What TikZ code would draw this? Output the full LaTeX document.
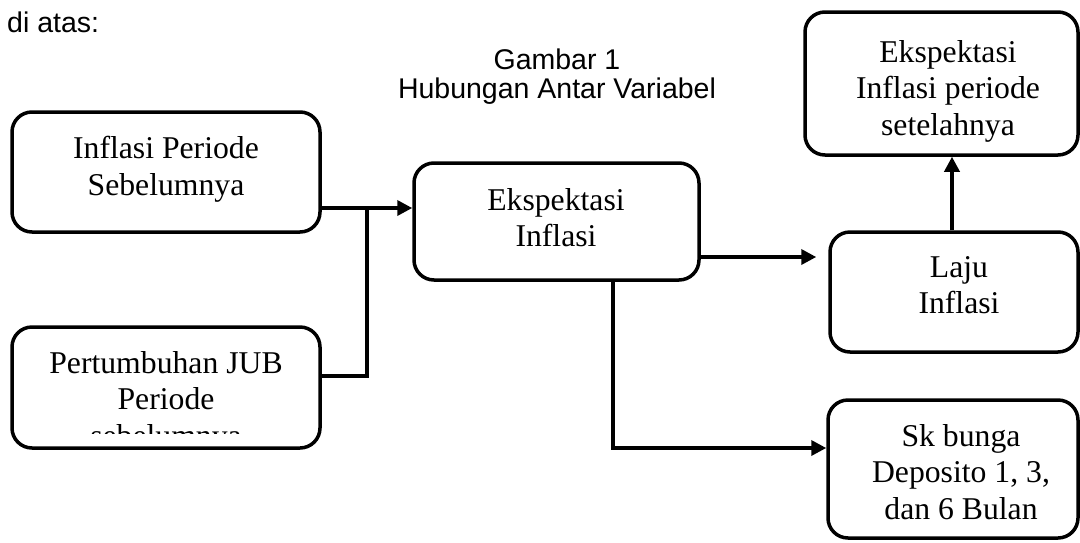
\documentclass[tikz,border=0pt]{standalone}
\usepackage{fontspec}
\setmainfont{Liberation Serif}[Ligatures=NoCommon]
\setsansfont{Liberation Sans}
\usetikzlibrary{arrows.meta,calc}
\begin{document}
\begin{tikzpicture}[x=1pt,y=-1pt,
  box/.style={draw, line width=3.5pt, rounded corners=20pt, inner sep=0pt},
  txt/.style={font=\fontsize{31.7}{36.5}\selectfont, align=center, inner sep=0pt, anchor=north},
  captxt/.style={font=\sffamily\fontsize{28.5}{29}\selectfont, align=center, inner sep=0pt},
  conn/.style={line width=3.5pt},
  arr/.style={conn, -{Triangle[length=15pt,width=15pt]}}]
\useasboundingbox (0,0) rectangle (1080,542);
% boxes
\node[box, minimum width=308pt, minimum height=120pt] (a) at (166,172) {};
\node[box, minimum width=308pt, minimum height=121pt] (b) at (166,387.5) {};
\node[box, minimum width=285pt, minimum height=117pt] (c) at (556.5,221.5) {};
\node[box, minimum width=248pt, minimum height=120pt] (d) at (954,292) {};
\node[box, minimum width=250pt, minimum height=138pt] (e) at (953,469) {};
\node[box, minimum width=273pt, minimum height=143pt] (f) at (941.5,83.5) {};
% texts
\node[txt] (ta) at (166,136) {Inflasi Periode\\Sebelumnya};
\begin{scope}
  \clip (0,300) rectangle (400,433);
  \node[txt] (tb) at (166,351) {Pertumbuhan JUB\\Periode\\sebelumnya};
\end{scope}
\node[txt] (tc) at (556,188) {Ekspektasi\\Inflasi};
\node[txt] (td) at (959,256) {Laju\\Inflasi};
\node[txt] (te) at (961,424) {Sk bunga\\Deposito 1, 3,\\dan 6 Bulan};
\node[txt] (tf) at (948,40) {Ekspektasi\\Inflasi periode\\setelahnya};
\node[captxt, anchor=north] (caption) at (557,49) {Gambar 1\\Hubungan Antar Variabel};
\node[captxt, anchor=base west] (intro) at (7,32) {di atas:};
% connectors
\coordinate (j) at (367,208);
\coordinate (jb) at (367,376);
\draw[arr] (a.east |- j) -- (c.west |- j);
\draw[conn] (b.east |- jb) -- (jb) -- (j);
\coordinate (kd) at (760,257);
\draw[arr, shorten >=12pt] (c.east |- kd) -- (d.west |- kd);
\coordinate (m) at (613,448);
\draw[arr] (c.south -| m) -- (m) -- (e.west |- m);
\coordinate (n) at (952,200);
\draw[arr] (d.north -| n) -- (f.south -| n);
\end{tikzpicture}
\end{document}
